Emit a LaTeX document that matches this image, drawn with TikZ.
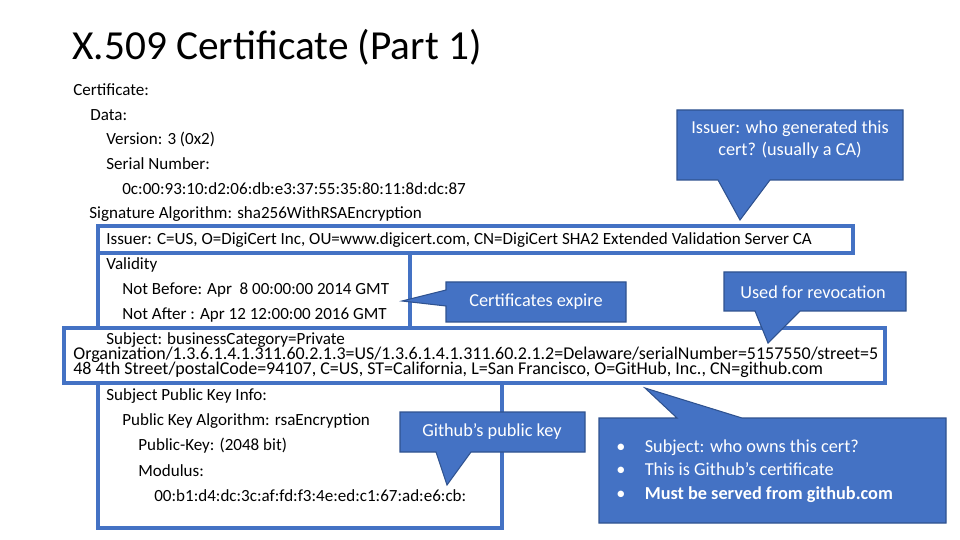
\documentclass[tikz,border=0pt]{standalone}
\usepackage{fontspec}
\usepackage{graphicx}
\setmainfont{Carlito}
\usetikzlibrary{positioning}
\definecolor{callblue}{HTML}{4472C4}
\definecolor{edgeblue}{HTML}{2F528F}
\begin{document}
\begin{tikzpicture}[x=0.02cm, y=-0.02cm,
    every node/.style={inner sep=0pt, anchor=west},
    line/.style={font=\fontsize{9.7}{10}\selectfont},
    hilite/.style={draw=callblue, line width=2.4pt},
    bubble/.style={fill=callblue, draw=edgeblue, line width=0.6pt, line join=miter},
    say/.style={text=white, font=\fontsize{10.4}{12.5}\selectfont, anchor=center}
  ]
  \useasboundingbox (0,0) rectangle (960,540);
  % highlighted boxes
  \draw [hilite] (98,226) rectangle (853,253);
  \draw [hilite] (98,253) rectangle (410,328);
  \draw [hilite] (64,328) rectangle (885,383);
  \draw [hilite] (98,383) rectangle (502,528);
  % title and certificate text
  \node [font=\fontsize{23.5}{26}\selectfont] (title) at (72,47) {X.509 Certificate (Part 1)};
  \node [line] (cert) at (73,90) {Certificate:};
  \node [line] (data) at (90,115) {Data:};
  \node [line] (ver) at (106,139) {Version: 3 (0x2)};
  \node [line] (sn) at (106,164) {Serial Number:};
  \node [line] (snv) at (122,189) {0c:00:93:10:d2:06:db:e3:37:55:35:80:11:8d:dc:87};
  \node [line] (sig) at (89,214) {Signature Algorithm: sha256WithRSAEncryption};
  \node [line] (iss) at (106,240) {Issuer: C=US, O=DigiCert Inc, OU=www.digicert.com, CN=DigiCert SHA2 Extended Validation Server CA};
  \node [line] (val) at (106,265) {Validity};
  \node [line] (nb) at (122,290) {Not Before: Apr\ \ 8 00:00:00 2014 GMT};
  \node [line] (na) at (122,315) {Not After : Apr 12 12:00:00 2016 GMT};
  \node [line] (subj) at (106,340) {Subject: businessCategory=Private};
  \node [line] (subj1) at (73,355) {\resizebox{16.1cm}{!}{Organization/1.3.6.1.4.1.311.60.2.1.3=US/1.3.6.1.4.1.311.60.2.1.2=Delaware/serialNumber=5157550/street=5}};
  \node [line] (subj2) at (73,370) {\resizebox{15.0cm}{!}{48 4th Street/postalCode=94107, C=US, ST=California, L=San Francisco, O=GitHub, Inc., CN=github.com}};
  \node [line] (pki) at (106,396) {Subject Public Key Info:};
  \node [line] (pka) at (122,421) {Public Key Algorithm: rsaEncryption};
  \node [line] (pk) at (138,446) {Public-Key: (2048 bit)};
  \node [line] (mod) at (138,471) {Modulus:};
  \node [line] (modv) at (154,496) {00:b1:d4:dc:3c:af:fd:f3:4e:ed:c1:67:ad:e6:cb:};
  % callouts
  \draw [bubble] (677,110) -- (903,110) -- (903,180) -- (770,180) -- (740,220)
    -- (718,180) -- (677,180) -- cycle;
  \node [say, align=center] (issnote) at (790,140) {Issuer: who generated this\\cert? (usually a CA)};
  \draw [bubble] (446,282) -- (626,282) -- (626,322) -- (446,322) -- (446,306)
    -- (402,301) -- (446,290) -- cycle;
  \node [say] (expnote) at (536,302) {Certificates expire};
  \draw [bubble] (724,272) -- (906,272) -- (906,311) -- (800,311) -- (768,343)
    -- (755,311) -- (724,311) -- cycle;
  \node [say] (revnote) at (813,292) {Used for revocation};
  \draw [bubble] (400,412) -- (585,412) -- (585,452) -- (471,452) -- (447,485)
    -- (436,452) -- (400,452) -- cycle;
  \node [say] (keynote) at (492,432) {Github’s public key};
  \draw [bubble] (599,418) -- (677,418) -- (645,388) -- (742,418) -- (946,418)
    -- (946,523) -- (599,523) -- cycle;
  \node [say, anchor=west, align=left] (subjnote) at (616,471)
    {•\hspace{11pt}Subject: who owns this cert?\\[1pt]•\hspace{11pt}This is Github’s certificate\\[1pt]•\hspace{11pt}\textbf{Must be served from github.com}};
\end{tikzpicture}
\end{document}
